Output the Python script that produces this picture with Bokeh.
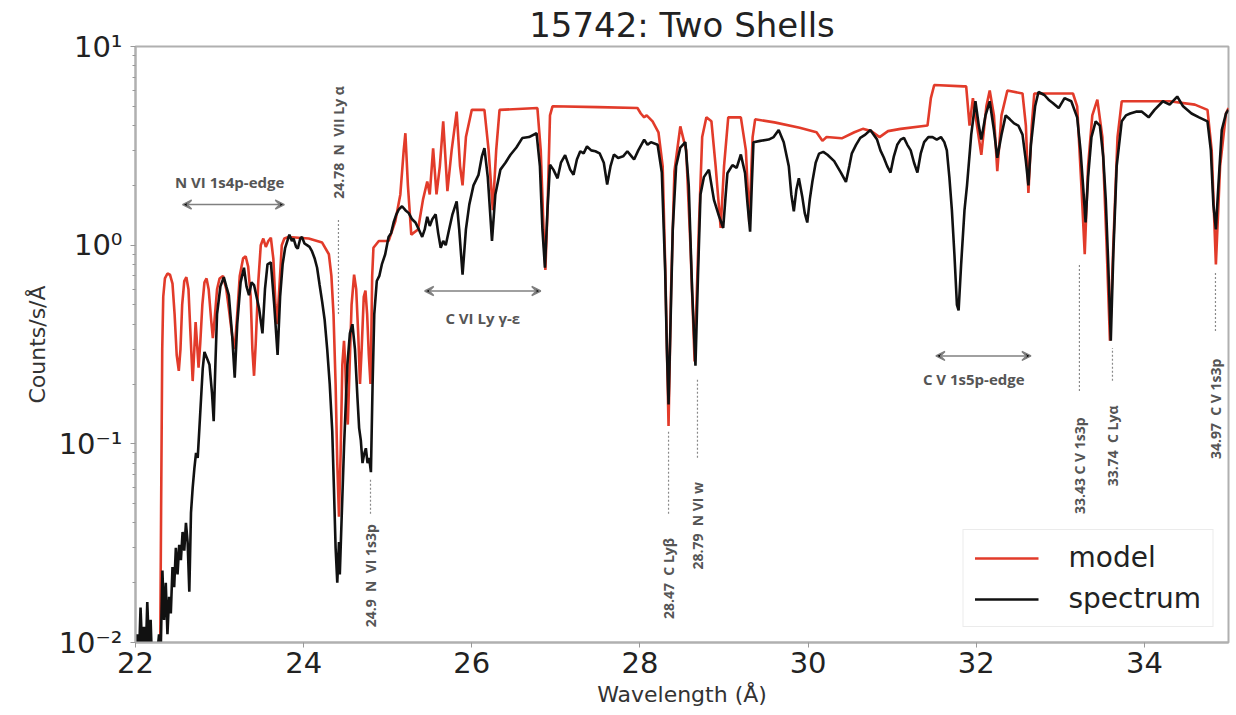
from bokeh.plotting import figure
from bokeh.models import (Range1d, FixedTicker, CustomJSTickFormatter, Legend, LegendItem,
                          Arrow, VeeHead, ColumnDataSource)
from bokeh.core.properties import value
from bokeh.embed import file_html
from bokeh.resources import INLINE
import math

# ---------------- data ----------------
model_wavelength = [22.29, 22.305, 22.318, 22.33, 22.35, 22.38, 22.41, 22.44, 22.465, 22.49, 22.515, 22.535,
                    22.555, 22.58, 22.605, 22.63, 22.655, 22.68, 22.70, 22.715, 22.73, 22.75, 22.77, 22.795,
                    22.82, 22.845, 22.87, 22.90, 22.92, 22.94, 22.97, 23.00, 23.04, 23.08, 23.11, 23.15,
                    23.18, 23.21, 23.24, 23.28, 23.31, 23.34, 23.37, 23.39, 23.41, 23.43, 23.46, 23.49,
                    23.52, 23.55, 23.58, 23.61, 23.64, 23.665, 23.685, 23.71, 23.74, 23.77, 23.82, 24.06,
                    24.22, 24.30, 24.33, 24.355, 24.38, 24.40, 24.42, 24.44, 24.46, 24.48, 24.495, 24.51,
                    24.525, 24.54, 24.57, 24.60, 24.625, 24.65, 24.67, 24.69, 24.715, 24.735, 24.755, 24.775,
                    24.795, 24.805, 24.815, 24.83, 24.894, 25.01, 25.09, 25.15, 25.19, 25.21, 25.24, 25.28,
                    25.36, 25.42, 25.47, 25.50, 25.54, 25.58, 25.62, 25.66, 25.71, 25.76, 25.82, 25.86,
                    25.89, 25.93, 26.00, 26.15, 26.20, 26.25, 26.29, 26.33, 26.78, 26.82, 26.86, 26.875,
                    26.90, 26.93, 26.96, 27.50, 27.97, 28.01, 28.05, 28.08, 28.15, 28.22, 28.27, 28.30,
                    28.34, 28.37, 28.41, 28.48, 28.55, 28.60, 28.65, 28.70, 28.74, 28.79, 28.85, 28.90,
                    28.96, 29.00, 29.05, 29.20, 29.26, 29.30, 29.34, 29.37, 29.60, 29.90, 30.10, 30.17,
                    30.22, 30.40, 30.55, 30.65, 30.75, 30.85, 30.95, 31.10, 31.42, 31.46, 31.50, 31.85,
                    31.88, 31.92, 31.96, 32.06, 32.12, 32.16, 32.21, 32.25, 32.30, 32.37, 32.55, 32.59,
                    32.62, 32.66, 32.69, 33.15, 33.20, 33.25, 33.29, 33.33, 33.38, 33.44, 33.50, 33.55,
                    33.59, 33.63, 33.68, 33.73, 34.30, 34.60, 34.75, 34.80, 34.85, 34.90, 34.97, 35.00]
model_counts = [0.005, 0.05, 0.30, 0.55, 0.68, 0.72, 0.71, 0.64, 0.45, 0.28, 0.233, 0.30,
                0.50, 0.66, 0.69, 0.60, 0.35, 0.207, 0.30, 0.41, 0.33, 0.242, 0.32, 0.50,
                0.65, 0.68, 0.60, 0.42, 0.34, 0.42, 0.60, 0.68, 0.70, 0.60, 0.48, 0.35,
                0.30, 0.45, 0.70, 0.86, 0.88, 0.78, 0.55, 0.30, 0.22, 0.32, 0.65, 1.00,
                1.08, 0.98, 1.05, 1.09, 0.85, 0.50, 0.40, 0.60, 1.00, 1.08, 1.10, 1.08,
                1.03, 0.90, 0.70, 0.45, 0.20, 0.08, 0.043, 0.09, 0.25, 0.33, 0.25, 0.15,
                0.125, 0.20, 0.50, 0.71, 0.60, 0.35, 0.20, 0.30, 0.55, 0.59, 0.45, 0.28,
                0.20, 0.35, 0.70, 0.97, 1.05, 1.05, 1.32, 1.80, 3.0, 3.66, 2.0, 1.13,
                1.20, 1.70, 2.09, 1.80, 3.07, 1.80, 2.5, 4.2, 1.87, 3.0, 4.7, 2.5,
                2.0, 3.5, 4.8, 4.8, 3.0, 1.5, 3.0, 4.8, 4.9, 3.0, 1.0, 0.75,
                1.5, 4.5, 5.0, 4.95, 4.9, 4.6, 4.4, 4.5, 4.2, 3.7, 2.5, 0.8,
                0.123, 0.6, 2.36, 3.96, 3.0, 1.0, 0.26, 1.2, 3.5, 4.4, 4.2, 2.5,
                1.22, 2.5, 4.4, 4.4, 3.0, 1.3, 3.5, 4.3, 4.15, 3.9, 3.7, 3.35,
                3.5, 3.45, 3.7, 3.85, 3.75, 3.5, 3.75, 3.85, 4.0, 5.5, 6.4, 6.3,
                6.3, 4.0, 5.5, 2.85, 5.0, 6.0, 4.5, 2.36, 4.5, 6.0, 5.8, 4.0,
                1.83, 4.0, 5.8, 5.8, 5.0, 2.0, 0.9, 2.5, 4.5, 5.4, 3.5, 1.0,
                0.33, 1.0, 3.5, 5.3, 5.3, 5.1, 4.8, 3.0, 0.8, 2.5, 4.6, 4.9]

spectrum_wavelength = [22.00, 22.02, 22.04, 22.06, 22.08, 22.10, 22.12, 22.14, 22.16, 22.18, 22.20, 22.22,
                       22.25, 22.28, 22.30, 22.32, 22.34, 22.36, 22.38, 22.40, 22.42, 22.44, 22.46, 22.48,
                       22.50, 22.52, 22.54, 22.56, 22.58, 22.60, 22.62, 22.64, 22.66, 22.68, 22.70, 22.72,
                       22.74, 22.76, 22.78, 22.80, 22.82, 22.85, 22.88, 22.91, 22.93, 22.95, 22.97, 23.01,
                       23.05, 23.08, 23.11, 23.15, 23.18, 23.21, 23.25, 23.29, 23.32, 23.35, 23.38, 23.41,
                       23.44, 23.47, 23.51, 23.54, 23.57, 23.61, 23.65, 23.69, 23.72, 23.75, 23.78, 23.83,
                       23.86, 23.88, 23.91, 23.93, 23.96, 23.98, 24.01, 24.04, 24.07, 24.10, 24.13, 24.16,
                       24.19, 24.22, 24.25, 24.28, 24.31, 24.34, 24.36, 24.38, 24.40, 24.42, 24.43, 24.45,
                       24.48, 24.52, 24.55, 24.58, 24.61, 24.64, 24.66, 24.68, 24.70, 24.72, 24.74, 24.76,
                       24.78, 24.80, 24.82, 24.84, 24.87, 24.90, 24.93, 24.97, 25.01, 25.04, 25.07, 25.10,
                       25.13, 25.17, 25.21, 25.25, 25.29, 25.33, 25.37, 25.41, 25.44, 25.47, 25.50, 25.53,
                       25.57, 25.60, 25.63, 25.66, 25.69, 25.73, 25.77, 25.82, 25.85, 25.89, 25.93, 25.97,
                       26.02, 26.08, 26.12, 26.15, 26.19, 26.24, 26.28, 26.34, 26.40, 26.46, 26.53, 26.60,
                       26.68, 26.77, 26.81, 26.84, 26.87, 26.90, 26.93, 26.97, 27.02, 27.06, 27.11, 27.17,
                       27.21, 27.25, 27.29, 27.33, 27.37, 27.42, 27.47, 27.52, 27.57, 27.61, 27.65, 27.69,
                       27.74, 27.80, 27.85, 27.90, 27.93, 27.98, 28.05, 28.09, 28.13, 28.21, 28.26, 28.30,
                       28.32, 28.34, 28.36, 28.39, 28.43, 28.48, 28.54, 28.58, 28.62, 28.66, 28.69, 28.72,
                       28.76, 28.82, 28.88, 28.94, 28.99, 29.02, 29.04, 29.10, 29.15, 29.20, 29.25, 29.28,
                       29.31, 29.33, 29.35, 29.43, 29.53, 29.59, 29.65, 29.71, 29.77, 29.80, 29.83, 29.86,
                       29.89, 29.93, 29.96, 29.99, 30.02, 30.05, 30.09, 30.13, 30.18, 30.23, 30.31, 30.39,
                       30.45, 30.49, 30.52, 30.57, 30.62, 30.68, 30.74, 30.78, 30.82, 30.86, 30.90, 30.94,
                       30.98, 31.02, 31.06, 31.10, 31.14, 31.18, 31.22, 31.26, 31.30, 31.34, 31.38, 31.43,
                       31.48, 31.53, 31.58, 31.62, 31.65, 31.68, 31.71, 31.74, 31.77, 31.79, 31.82, 31.86,
                       31.89, 31.94, 31.99, 32.03, 32.06, 32.11, 32.16, 32.21, 32.25, 32.30, 32.35, 32.40,
                       32.45, 32.50, 32.55, 32.59, 32.62, 32.65, 32.70, 32.74, 32.81, 32.86, 32.91, 32.98,
                       33.05, 33.13, 33.20, 33.24, 33.27, 33.30, 33.33, 33.37, 33.42, 33.47, 33.51, 33.54,
                       33.57, 33.60, 33.63, 33.67, 33.73, 33.78, 33.83, 33.90, 33.97, 34.05, 34.12, 34.22,
                       34.30, 34.39, 34.46, 34.56, 34.65, 34.75, 34.79, 34.82, 34.85, 34.88, 34.92, 34.97,
                       35.00]
spectrum_counts = [0.0085, 0.011, 0.008, 0.015, 0.009, 0.012, 0.008, 0.016, 0.0095, 0.013, 0.007, 0.010,
                   0.008, 0.011, 0.009, 0.023, 0.013, 0.020, 0.011, 0.017, 0.014, 0.024, 0.019, 0.030,
                   0.022, 0.031, 0.026, 0.036, 0.029, 0.040, 0.032, 0.018, 0.045, 0.060, 0.075, 0.090,
                   0.085, 0.12, 0.17, 0.24, 0.29, 0.27, 0.25, 0.18, 0.13, 0.25, 0.45, 0.62,
                   0.69, 0.62, 0.56, 0.35, 0.215, 0.40, 0.65, 0.77, 0.62, 0.56, 0.65, 0.63,
                   0.55, 0.48, 0.36, 0.60, 0.80, 0.82, 0.50, 0.28, 0.55, 0.80, 0.97, 1.13,
                   1.05, 1.08, 0.98, 0.96, 1.08, 1.10, 1.02, 1.00, 0.98, 0.93, 0.86, 0.77,
                   0.63, 0.52, 0.42, 0.30, 0.20, 0.116, 0.06, 0.03, 0.020, 0.032, 0.022, 0.040,
                   0.096, 0.25, 0.36, 0.40, 0.30, 0.17, 0.12, 0.104, 0.080, 0.089, 0.095, 0.080,
                   0.085, 0.072, 0.20, 0.45, 0.66, 0.70, 0.80, 0.90, 1.10, 1.15, 1.30, 1.42,
                   1.51, 1.57, 1.50, 1.45, 1.35, 1.30, 1.20, 1.10, 1.20, 1.39, 1.25, 1.35,
                   1.43, 1.15, 0.97, 1.05, 1.00, 1.20, 1.43, 1.66, 1.20, 0.71, 1.20, 1.60,
                   2.00, 2.26, 2.80, 3.08, 2.20, 1.05, 1.80, 2.40, 2.60, 2.85, 3.10, 3.46,
                   3.50, 3.66, 2.50, 1.20, 0.77, 1.50, 2.54, 2.40, 2.17, 2.60, 2.84, 2.40,
                   2.26, 2.70, 2.97, 2.90, 3.14, 3.00, 2.97, 2.90, 2.60, 2.02, 2.50, 2.86,
                   2.75, 2.80, 2.97, 2.80, 2.70, 3.00, 3.40, 3.20, 3.30, 3.20, 2.32, 0.74,
                   0.30, 0.158, 0.35, 1.20, 2.50, 3.10, 3.30, 2.00, 0.60, 0.247, 0.70, 1.80,
                   2.20, 2.40, 1.69, 1.40, 1.22, 1.80, 2.30, 2.53, 2.45, 2.86, 2.30, 1.60,
                   1.17, 2.00, 3.30, 3.35, 3.40, 3.50, 3.80, 3.30, 2.50, 1.80, 1.48, 1.90,
                   2.17, 1.76, 1.45, 1.30, 1.70, 2.08, 2.60, 2.89, 2.95, 2.85, 2.65, 2.32,
                   2.08, 2.50, 2.90, 3.20, 3.47, 3.60, 3.80, 3.60, 3.40, 3.00, 2.76, 2.50,
                   2.32, 2.80, 3.20, 3.40, 3.47, 3.20, 3.00, 2.60, 2.32, 2.90, 3.30, 3.50,
                   3.50, 3.40, 3.50, 3.30, 3.00, 2.20, 1.50, 0.90, 0.50, 0.47, 0.80, 1.50,
                   2.00, 3.60, 5.30, 4.00, 3.40, 4.50, 5.30, 3.80, 2.75, 3.60, 4.50, 4.30,
                   4.10, 4.00, 3.60, 2.65, 2.00, 3.20, 5.00, 5.90, 5.70, 5.40, 5.20, 4.90,
                   5.50, 5.30, 4.40, 3.00, 2.00, 1.30, 2.20, 3.50, 4.20, 4.00, 2.80, 1.70,
                   0.80, 0.33, 0.90, 2.50, 4.20, 4.50, 4.60, 4.70, 4.70, 4.40, 4.80, 5.30,
                   5.10, 5.60, 5.00, 4.60, 4.40, 4.20, 3.00, 1.60, 1.20, 2.00, 3.80, 4.60,
                   4.80]

# line identifications (vertical labels with dotted guides)
line_wavelength = [24.414, 24.795, 28.34, 28.684, 33.227, 33.62, 34.845]
line_labels = ["24.78\u00a0\u00a0N\u00a0\u00a0VII Ly α", "24.9\u00a0\u00a0N\u00a0\u00a0VI 1s3p",
               "28.47\u00a0\u00a0C Lyβ", "28.79\u00a0\u00a0N VI w", "33.43 C V 1s3p",
               "33.74\u00a0\u00a0C Lyα", "34.97\u00a0\u00a0C V 1s3p"]
line_guide_top = [1.367, 0.0675, 0.116, 0.212, 0.80, 0.304, 0.74]
line_guide_bottom = [0.45, 0.0445, 0.0445, 0.085, 0.1845, 0.2075, 0.37]
line_label_y = [3.29, 0.0217, 0.021, 0.0387, 0.0776, 0.0977, 0.15]

# edge / series ranges (double arrows)
range_start = [22.56, 25.44, 31.52]
range_end = [23.77, 26.82, 32.65]
range_y = [1.60, 0.588, 0.277]
range_labels = ["N VI 1s4p-edge", "C VI Ly γ-ε", "C V 1s5p-edge"]
range_label_x = [23.12, 26.13, 31.97]
range_label_y = [2.08, 0.43, 0.212]

y_ticks = [0.01, 0.1, 1, 10]
x_ticks = [22, 24, 26, 28, 30, 32, 34]

# ---------------- figure ----------------
p = figure(width=1236, height=715, output_backend="svg", toolbar_location=None,
           y_axis_type="log", x_range=Range1d(22, 35), y_range=Range1d(0.01, 10),
           title="15742: Two Shells")
p.min_border_left = 135
p.min_border_right = 8
p.min_border_top = 45
p.min_border_bottom = 73
p.background_fill_color = "white"
p.border_fill_color = "white"
p.outline_line_color = "#b0b0b0"
p.outline_line_width = 2
p.xgrid.visible = False
p.ygrid.visible = False

p.title.align = "center"
p.title.text_font = "DejaVu Sans"
p.title.text_font_size = "34px"
p.title.text_font_style = "normal"
p.title.text_color = "#222222"
p.title.standoff = 4

for ax in (p.xaxis[0], p.yaxis[0]):
    ax.axis_line_color = "#b0b0b0"
    ax.axis_line_width = 2
    ax.major_tick_line_color = "#999999"
    ax.minor_tick_line_color = "#999999"
    ax.major_tick_in = 0
    ax.major_tick_out = 5
    ax.minor_tick_in = 0
    ax.minor_tick_out = 3
    ax.major_label_text_font = "DejaVu Sans"
    ax.major_label_text_font_size = "29px"
    ax.major_label_text_color = "#222222"
    ax.axis_label_text_font = "DejaVu Sans"
    ax.axis_label_text_font_size = "22px"
    ax.axis_label_text_font_style = "normal"
    ax.axis_label_text_color = "#333333"

p.xaxis.ticker = FixedTicker(ticks=x_ticks)
p.xaxis.minor_tick_line_color = None
p.xaxis.axis_label = "Wavelength (Å)"
p.xaxis.major_label_standoff = 4
p.xaxis.axis_label_standoff = 6

minor = []
for d in y_ticks[:-1]:
    minor += [d * k for k in range(2, 10)]
p.yaxis.ticker = FixedTicker(ticks=y_ticks, minor_ticks=minor)
p.yaxis.formatter = CustomJSTickFormatter(code="""
const e = Math.round(Math.log10(tick));
const sup = {"-2": "\u207b\u00b2", "-1": "\u207b\u00b9", "0": "\u2070", "1": "\u00b9"};
return "10" + (sup[String(e)] || "");
""")
p.yaxis.axis_label = "Counts/s/Å"
p.yaxis.major_label_standoff = 8
p.yaxis.axis_label_standoff = 6

# curves
r_model = p.line(model_wavelength, model_counts, line_color="#e23b2a", line_width=2.6)
r_spec = p.line(spectrum_wavelength, spectrum_counts, line_color="#111111", line_width=2.6)

# line identification guides and labels
guides = ColumnDataSource(dict(x=line_wavelength, y0=line_guide_bottom, y1=line_guide_top))
p.segment(x0="x", y0="y0", x1="x", y1="y1", source=guides, line_color="#8a8a8a",
          line_width=1.2, line_dash="2 2")
lbl = ColumnDataSource(dict(x=line_wavelength, y=line_label_y, t=line_labels))
p.text(x="x", y="y", text="t", source=lbl, angle=math.pi / 2, text_align="center",
       text_baseline="middle", text_font=value("Open Sans"), text_font_size="14px",
       text_font_style="bold", text_color="#555555")

# range arrows
for xs, xe, yy in zip(range_start, range_end, range_y):
    p.add_layout(Arrow(x_start=xs, y_start=yy, x_end=xe, y_end=yy,
                       start=VeeHead(size=9, line_color="#808080", line_width=1.5),
                       end=VeeHead(size=9, line_color="#808080", line_width=1.5),
                       line_color="#808080", line_width=1.5))
rl = ColumnDataSource(dict(x=range_label_x, y=range_label_y, t=range_labels))
p.text(x="x", y="y", text="t", source=rl, text_align="center", text_baseline="middle",
       text_font=value("Open Sans"), text_font_size="15px", text_font_style="bold",
       text_color="#555555")

# legend
legend = Legend(items=[LegendItem(label="model", renderers=[r_model]),
                       LegendItem(label="spectrum", renderers=[r_spec])],
                location="bottom_right")
legend.label_text_font = "DejaVu Sans"
legend.label_text_font_size = "28px"
legend.label_text_color = "#222222"
legend.glyph_width = 64
legend.glyph_height = 32
legend.label_standoff = 30
legend.padding = 11
legend.spacing = 8
legend.margin = 15
legend.border_line_color = "#d8d8d8"
legend.border_line_width = 1.5
legend.background_fill_alpha = 1.0
p.add_layout(legend)

open("out.html", "w").write(file_html(p, INLINE))
